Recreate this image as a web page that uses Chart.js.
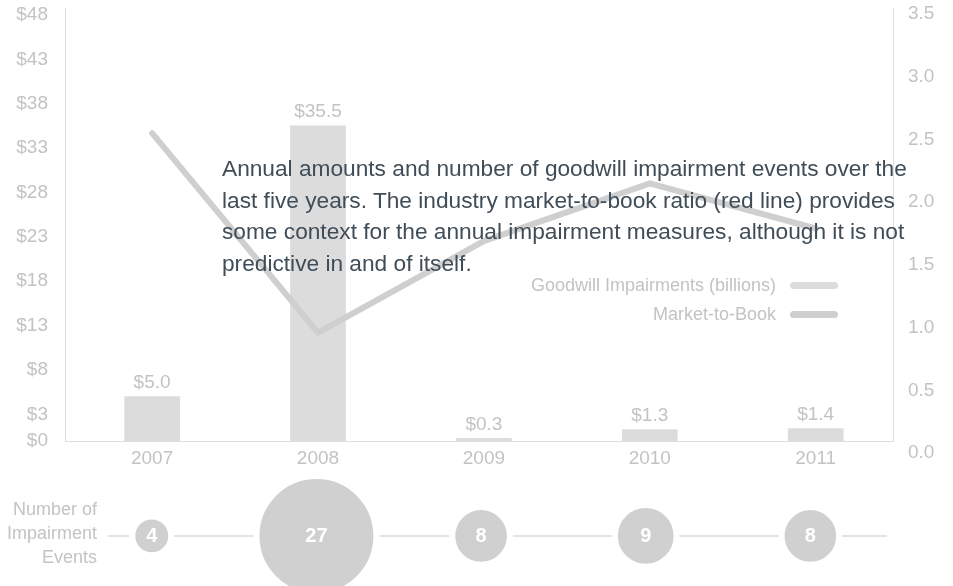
<!DOCTYPE html>
<html>
<head>
<meta charset="utf-8">
<script src="https://cdn.jsdelivr.net/npm/chart.js@4.4.1/dist/chart.umd.min.js"></script>
<style>
  html, body { margin: 0; padding: 0; background: #fff; }
  body { width: 953px; height: 586px; position: relative; overflow: hidden; font-family: "Liberation Sans", Arial, sans-serif; }
  #main { position: absolute; left: 0; top: 0; }
  #events { position: absolute; left: 0; top: 470px; }
  .note { position: absolute; left: 222px; top: 153px; font-size: 22.7px; line-height: 31.7px; color: #3f4d58; white-space: nowrap; }
  .legend { position: absolute; right: 115px; top: 271px; }
  .legend-row { display: flex; justify-content: flex-end; align-items: center; height: 29px; font-size: 18px; color: #c3c3c3; }
  .legend-row span.swatch { display: inline-block; width: 48px; height: 7px; border-radius: 4px; margin-left: 14px; }
  .events-label { position: absolute; right: 856px; top: 497px; text-align: right; font-size: 18px; line-height: 24px; color: #c3c3c3; white-space: nowrap; }
</style>
</head>
<body>
<canvas id="main" width="953" height="480"></canvas>
<canvas id="events" width="953" height="116"></canvas>
<div class="note">Annual amounts and number of goodwill impairment events over the<br>last five years. The industry market-to-book ratio (red line) provides<br>some context for the annual impairment measures, although it is not<br>predictive in and of itself.</div>
<div class="legend" id="legend"></div>
<div class="events-label">Number of<br>Impairment<br>Events</div>
<script>
const categories = ['2007', '2008', '2009', '2010', '2011'];
const impairments = [5.0, 35.5, 0.3, 1.3, 1.4];
const marketToBook = [2.55, 0.96, 1.69, 2.15, 1.79];
const eventCounts = [4, 27, 8, 9, 8];
const dollarTicks = [0, 3, 8, 13, 18, 23, 28, 33, 38, 43, 48];
const ratioTicks = [0, 0.5, 1.0, 1.5, 2.0, 2.5, 3.0, 3.5];

const FONT = '"Liberation Sans", Arial, sans-serif';
const tickColor = '#c3c3c3';
const axisColor = '#dedede';
const barColor = '#dcdcdc';
const lineColor = '#cfcfcf';
const bubbleColor = '#d0d0d0';

// x range is a little uneven so the year columns land where the original put them
const xMin = -0.525;
const xMax = 4.466;

// bubble size grows a bit faster than sqrt of the count
function bubbleRadius(n) {
	return 6.68 * Math.pow(n, 0.65);
}

const tickFont = { family: FONT, size: 19, lineHeight: 1 };

const barValueLabels = {
	id: 'barValueLabels',
	afterDatasetsDraw(chart) {
		const meta = chart.getDatasetMeta(1);
		const ctx = chart.ctx;
		ctx.save();
		ctx.font = '19px ' + FONT;
		ctx.fillStyle = tickColor;
		ctx.textAlign = 'center';
		ctx.textBaseline = 'middle';
		meta.data.forEach((bar, i) => {
			ctx.fillText('$' + impairments[i].toFixed(1), bar.x, bar.y - 14);
		});
		ctx.restore();
	}
};

const countLabels = {
	id: 'countLabels',
	afterDatasetsDraw(chart) {
		const meta = chart.getDatasetMeta(0);
		const ctx = chart.ctx;
		ctx.save();
		ctx.font = 'bold 20px ' + FONT;
		ctx.fillStyle = '#ffffff';
		ctx.textAlign = 'center';
		ctx.textBaseline = 'middle';
		meta.data.forEach((pt, i) => {
			ctx.fillText(String(eventCounts[i]), pt.x, pt.y + 1);
		});
		ctx.restore();
	}
};

const mainChart = new Chart(document.getElementById('main'), {
	data: {
		datasets: [
			{
				type: 'line',
				label: 'Market-to-Book',
				data: marketToBook.map((v, i) => ({ x: i, y: v })),
				yAxisID: 'y1',
				borderColor: lineColor,
				borderWidth: 6,
				borderCapStyle: 'round',
				pointRadius: 0,
				tension: 0,
				order: 0
			},
			{
				type: 'bar',
				label: 'Goodwill Impairments (billions)',
				data: impairments.map((v, i) => ({ x: i, y: v })),
				yAxisID: 'y',
				backgroundColor: barColor,
				barThickness: 55,
				order: 1
			}
		]
	},
	options: {
		responsive: false,
		animation: false,
		events: [],
		layout: { padding: { top: 8, left: 0, right: 0, bottom: 0 } },
		plugins: { legend: { display: false }, tooltip: { enabled: false } },
		scales: {
			x: {
				type: 'linear',
				offset: false,
				min: xMin,
				max: xMax,
				grid: { display: false, drawTicks: false },
				border: { color: axisColor, width: 1 },
				ticks: { font: tickFont, color: tickColor, padding: 8, autoSkip: false, maxRotation: 0, callback: v => categories[v] },
				afterBuildTicks: s => { s.ticks = categories.map((c, i) => ({ value: i })); },
				afterFit: s => { s.height = 39; s.paddingLeft = 0; s.paddingRight = 0; }
			},
			y: {
				position: 'left',
				min: 0,
				max: 48.79,
				grid: { display: false, drawTicks: false },
				border: { color: axisColor, width: 1 },
				ticks: { font: tickFont, color: tickColor, padding: 17, autoSkip: false, callback: v => '$' + v },
				afterBuildTicks: s => { s.ticks = dollarTicks.map(v => ({ value: v })); },
				afterFit: s => { s.width = 65; s.paddingTop = 0; s.paddingBottom = 0; }
			},
			y1: {
				position: 'right',
				min: 0.096,
				max: 3.548,
				grid: { display: false, drawTicks: false },
				border: { color: axisColor, width: 1 },
				ticks: { font: tickFont, color: tickColor, padding: 15, autoSkip: false, callback: v => v.toFixed(1) },
				afterBuildTicks: s => { s.ticks = ratioTicks.map(v => ({ value: v })); },
				afterFit: s => { s.width = 60; s.paddingTop = 0; s.paddingBottom = 0; }
			}
		}
	},
	plugins: [barValueLabels]
});

// legend, built from the datasets (bars first)
const legendEl = document.getElementById('legend');
mainChart.data.datasets.slice().reverse().forEach(ds => {
	const row = document.createElement('div');
	row.className = 'legend-row';
	const txt = document.createElement('span');
	txt.textContent = ds.label;
	const sw = document.createElement('span');
	sw.className = 'swatch';
	sw.style.background = ds.type === 'bar' ? ds.backgroundColor : ds.borderColor;
	row.appendChild(txt);
	row.appendChild(sw);
	legendEl.appendChild(row);
});

// bubble row uses the same x mapping as the main chart, starting where the rule line starts
const evLeft = 108;
const evMin = mainChart.scales.x.getValueForPixel(evLeft);

new Chart(document.getElementById('events'), {
	type: 'bubble',
	data: {
		datasets: [{
			label: 'Number of Impairment Events',
			data: eventCounts.map((n, i) => ({ x: i, y: 0 })),
			backgroundColor: bubbleColor,
			borderColor: '#ffffff',
			borderWidth: 6,
			radius: ctx => bubbleRadius(eventCounts[ctx.dataIndex]) + 3,
			clip: false
		}]
	},
	options: {
		responsive: false,
		animation: false,
		events: [],
		layout: { padding: { left: evLeft, right: 60, top: 13, bottom: 3 } },
		plugins: { legend: { display: false }, tooltip: { enabled: false } },
		scales: {
			x: { type: 'linear', display: false, offset: false, min: evMin, max: xMax },
			y: {
				min: -1,
				max: 1,
				grid: { color: '#e3e3e3', lineWidth: 2, drawTicks: false },
				border: { display: false },
				ticks: { display: false },
				afterBuildTicks: s => { s.ticks = [{ value: 0 }]; },
				afterFit: s => { s.width = 0; }
			}
		}
	},
	plugins: [countLabels]
});
</script>
</body>
</html>
